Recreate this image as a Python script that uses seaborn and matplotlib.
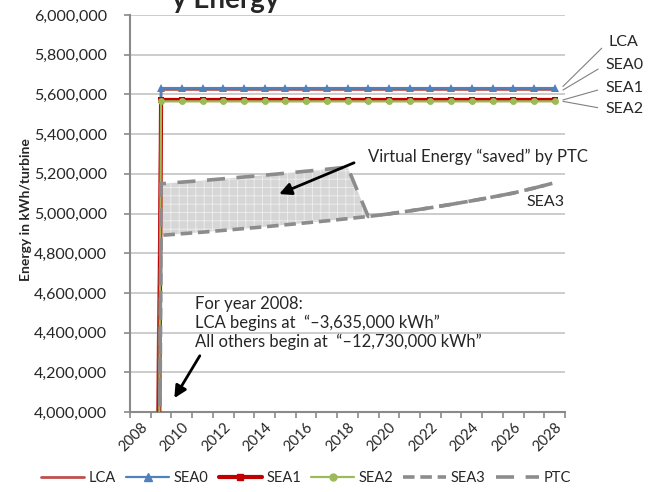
"""Yearly energy per turbine: LCA vs SEA scenarios and the PTC effect."""

import matplotlib
matplotlib.use("Agg")
import matplotlib.pyplot as plt
from matplotlib.lines import Line2D
from matplotlib.ticker import FuncFormatter, MultipleLocator
import seaborn as sns

# Data (kWh per turbine)
YEARS = list(range(2008, 2029))
LCA = [-3635000] + [5625000] * 20
SEA0 = [-12730000] + [5632000] * 20
SEA1 = [-12730000] + [5572000] * 20
SEA2 = [-12730000] + [5565000] * 20
SEA3 = [-12730000, 4890000, 4898000, 4906000, 4915000, 4924000, 4933000,
        4943000, 4953000, 4963000, 4974000, 4985000, 4998000, 5013000,
        5029000, 5046000, 5064000, 5083000, 5103000, 5128000, 5155000]
PTC = [-12730000, 5150000, 5158000, 5166000, 5175000, 5184000, 5193000,
       5203000, 5213000, 5223000, 5234000, 4985000, 4998000, 5013000,
       5029000, 5046000, 5064000, 5083000, 5103000, 5128000, 5155000]
PTC_YEARS = list(range(2009, 2020))  # years where PTC lifts the curve
SERIES = ["LCA", "SEA0", "SEA1", "SEA2", "SEA3", "PTC"]
TITLE = "y Energy"  # only the bottom of the title survives in the original crop

STYLES = {
    "LCA": dict(color="#C0504D", lw=2.0),
    "SEA0": dict(color="#4F81BD", lw=1.6, marker="^", markersize=5.5),
    "SEA1": dict(color="#C00000", lw=3.0, marker="s", markersize=5),
    "SEA2": dict(color="#9BBB59", lw=1.6, marker="o", markersize=5),
    "SEA3": dict(color="#8C8C8C", lw=2.6, dashes=(3.2, 1.6)),
    "PTC": dict(color="#8C8C8C", lw=2.6, dashes=(5.0, 3.2)),
}
FS = 12  # annotation font size


def main():
    sns.set_style("white")
    plt.rcParams["font.family"] = ["Lato", "DejaVu Sans"]
    plt.rcParams["hatch.linewidth"] = 0.6

    fig = plt.figure(figsize=(6.57, 4.92), dpi=100)
    ax = fig.add_axes([130 / 657, 1 - 412 / 492, 435 / 657, 397 / 492])

    data = dict(zip(SERIES, [LCA, SEA0, SEA1, SEA2, SEA3, PTC]))

    # shaded "virtual energy" region between PTC and SEA3
    i0, i1 = YEARS.index(PTC_YEARS[0]), YEARS.index(PTC_YEARS[-1]) + 1
    ax.fill_between(PTC_YEARS, SEA3[i0:i1], PTC[i0:i1], facecolor="#D6D6D6",
                    edgecolor="#EFEFEF", hatch="++", lw=0, zorder=1)

    handles = []
    for name in SERIES:
        st = dict(STYLES[name])
        dashes = st.pop("dashes", None)
        sns.lineplot(x=YEARS, y=data[name], ax=ax, zorder=3,
                     markeredgewidth=0, **st)
        line = ax.lines[-1]
        if dashes:
            line.set_dashes(dashes)
            line.set_dash_capstyle("butt")
        h = Line2D([], [], **{k: v for k, v in STYLES[name].items() if k != "dashes"})
        if dashes:
            h.set_dashes(dashes)
        handles.append(h)

    # axes styling
    ax.set_xlim(2007.5, 2028.5)
    ax.set_ylim(4000000, 6000000)
    ax.yaxis.set_major_locator(MultipleLocator(200000))
    ax.yaxis.set_major_formatter(FuncFormatter(lambda v, p: f"{v:,.0f}"))
    ax.grid(axis="y", color="#BEBEBE", lw=1.1)
    ax.set_axisbelow(True)
    for side in ["top", "right"]:
        ax.spines[side].set_visible(False)
    for side in ["left", "bottom"]:
        ax.spines[side].set_color("#8A8A8A")
        ax.spines[side].set_linewidth(1.5)
    ax.set_xticks(YEARS[::2])
    ax.set_xticks([y + 0.5 for y in [2007] + YEARS], minor=True)
    ax.tick_params(axis="x", which="major", length=0, labelsize=10.5, pad=6)
    ax.tick_params(axis="x", which="minor", length=4.5, color="#8A8A8A", width=1.2,
                   direction="out", bottom=True)
    ax.tick_params(axis="y", length=4.5, color="#8A8A8A", width=1.2, left=True,
                   labelsize=11.5, direction="out", pad=12)
    for lbl in ax.get_xticklabels():
        lbl.set_rotation(45)
        lbl.set_ha("right")
        lbl.set_rotation_mode("anchor")
    ax.set_xlabel("")
    ax.set_ylabel("Energy in kWh/turbine", fontsize=10, fontweight="bold")
    ax.yaxis.set_label_coords(-0.225, 0.511)

    # title, mostly cut off at the top edge as in the original
    fig.text(172 / 657, 1 - 8 / 492, TITLE, ha="left", va="baseline",
             fontsize=20, fontweight="bold")

    # right-hand series labels with leader lines
    end = YEARS[-1] + 0.4
    lab = [("LCA", LCA[-1] + 15000, 608, 42), ("SEA0", SEA0[-1] - 10000, 605, 65),
           ("SEA1", SEA1[-1], 605, 88), ("SEA2", SEA2[-1], 605, 109)]
    for name, val, tx, ty in lab:
        ax.annotate(name, xy=(end, val), xycoords="data",
                    xytext=(tx, 492 - ty), textcoords="figure pixels",
                    fontsize=11.5, va="center", ha="left",
                    arrowprops=dict(arrowstyle="-", color="#808080", lw=0.8,
                                    shrinkA=3, shrinkB=0, relpos=(0, 0.5)),
                    annotation_clip=False)
    ax.text(0.998, 0.528, "SEA3", transform=ax.transAxes, ha="right",
            va="center", fontsize=11.5)

    # callouts
    ax.annotate("Virtual Energy \u201csaved\u201d by PTC",
                xy=(2014.7, 5098000), xytext=(2018.97, 5284000),
                fontsize=FS, va="center", ha="left",
                arrowprops=dict(arrowstyle="-|>,head_length=0.6,head_width=0.3",
                                color="black", lw=2, shrinkA=8, shrinkB=0,
                                relpos=(0, 0.5)))
    ax.annotate("For year 2008:\nLCA begins at  \u201c\u20133,635,000 kWh\u201d\n"
                "All others begin at  \u201c\u201312,730,000 kWh\u201d",
                xy=(2009.64, 4070000), xytext=(2010.66, 4448000),
                fontsize=FS, va="center", ha="left", linespacing=1.2,
                arrowprops=dict(arrowstyle="-|>,head_length=0.6,head_width=0.3",
                                color="black", lw=2, shrinkA=2, shrinkB=0,
                                relpos=(0.027, 0.0)))

    fig.legend(handles, SERIES, loc="center", bbox_to_anchor=(306 / 657, 1 - 478 / 492),
               ncol=6, frameon=False, fontsize=10.5, handlelength=2.95,
               columnspacing=0.7, handletextpad=0.3)

    fig.savefig("out.png", dpi=100)


if __name__ == "__main__":
    main()
